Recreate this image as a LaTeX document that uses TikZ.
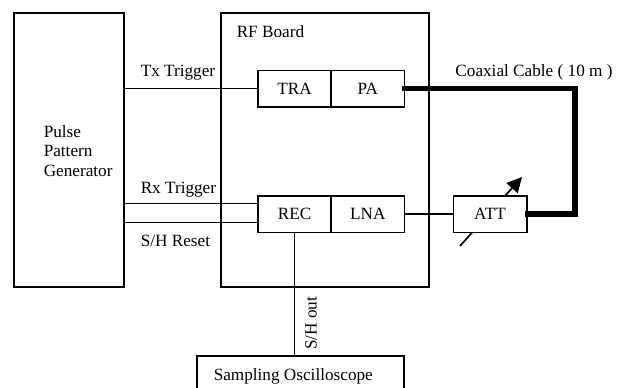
\documentclass[tikz,border=0pt]{standalone}
\usepackage{fontspec}
\setmainfont{Liberation Serif}
\usetikzlibrary{arrows.meta,calc}

\begin{document}
\begin{tikzpicture}[x=0.5pt,y=-0.5pt,line width=0.75pt,font=\fontsize{8.6}{9.6}\selectfont,
  box/.style={draw,rectangle,inner sep=0pt},
  blk/.style={box,fill=white,minimum width=36.75pt,minimum height=18.25pt},
  lbl/.style={inner sep=0pt,anchor=west},
  cable/.style={line width=2.6pt,line join=miter}]

\clip (0,0) rectangle (626,387);

\node[box,minimum width=55pt,minimum height=137pt] (ppg) at (69,150) {};
\node[lbl,align=left] (ppgtxt) at (43,151) {Pulse\\Pattern\\Generator};
\node[box,minimum width=104pt,minimum height=137pt] (rf) at (325,150) {};
\node[lbl] (rftxt) at (236,32) {RF Board};

\node[blk] (tra) at (294.5,88.5) {TRA};
\node[blk] (pa) at (367.75,88.5) {PA};
\node[blk] (rec) at (294.5,214) {REC};
\node[blk] (lna) at (367.75,214) {LNA};

% variable attenuator
\draw[line width=0.85pt,-{Triangle[length=7.5pt,width=7.5pt]}] (460,246) -- (522,177);
\node[blk] (att) at (490,214) {ATT};

\node[box,minimum width=103.5pt,minimum height=30pt] (osc) at (300.5,386) {};
\node[lbl] (osctxt) at (213,376) {Sampling Oscilloscope};

\coordinate (rxin) at ($(rec.north west)!.22!(rec.south west)$);
\coordinate (shin) at ($(rec.north west)!.72!(rec.south west)$);
\coordinate (cbl) at (575,150);

\node[lbl] (txlbl) at (140,73) {Tx Trigger};
\node[lbl] (rxlbl) at (140,190) {Rx Trigger};
\node[lbl] (shlbl) at (140,241) {S/H Reset};
\node (coaxlbl) at (534,72) {Coaxial Cable ( 10 m )};

\draw (ppg.east |- tra.west) -- (tra.west);
\draw (ppg.east |- rxin) -- (rxin);
\draw (ppg.east |- shin) -- (shin);
\draw (lna.east) -- (att.west);
\draw (rec.south) -- node[rotate=90,anchor=north,inner sep=5pt,pos=.74] {S/H out} (rec.south |- osc.north);
\draw[cable] ([xshift=-1.5pt]pa.east) -| (cbl) |- ([xshift=-1.5pt]att.east);
\end{tikzpicture}
\end{document}
